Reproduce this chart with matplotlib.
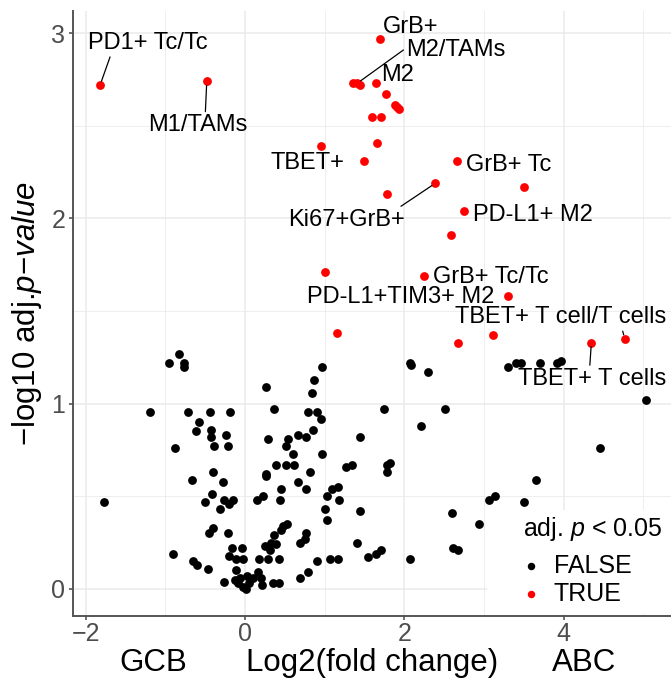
import numpy as np
from matplotlib import pyplot as plt
from matplotlib.patches import Rectangle

plt.rcParams['font.family'] = ['Liberation Sans', 'DejaVu Sans']
plt.rcParams['mathtext.fontset'] = 'custom'
plt.rcParams['mathtext.rm'] = 'Liberation Sans'
plt.rcParams['mathtext.it'] = 'Liberation Sans:italic'

# poblaciones con adj. p < 0.05 (TRUE)
sig_x = np.array([-1.82, -0.48, 1.69, 1.36, 1.41, 1.44, 1.64, 1.77, 1.89, 1.93,
                  1.91, 1.60, 1.71, 0.95, 1.66, 1.50, 2.66, 2.39, 1.78, 3.50,
                  2.75, 2.59, 1.01, 2.25, 3.30, 1.16, 2.68, 3.11, 4.35, 4.77])
sig_y = np.array([2.72, 2.74, 2.97, 2.73, 2.73, 2.72, 2.73, 2.67, 2.61, 2.59,
                  2.60, 2.55, 2.55, 2.39, 2.41, 2.31, 2.31, 2.19, 2.13, 2.17,
                  2.04, 1.91, 1.71, 1.69, 1.58, 1.38, 1.33, 1.37, 1.33, 1.35])
sig_lab = ['PD1+ Tc/Tc', 'M1/TAMs', 'GrB+', '', 'M2/TAMs', '', 'M2', '', '', '',
           '', '', '', '', '', 'TBET+', 'GrB+ Tc', 'Ki67+GrB+', '', '',
           'PD-L1+ M2', '', '', 'GrB+ Tc/Tc', 'PD-L1+TIM3+ M2', '', '', '',
           'TBET+ T cells', 'TBET+ T cell/T cells']

# poblaciones no significativas (FALSE)
ns_x = np.array([-0.83, -0.95, -0.76, -0.76, -1.19, -0.71, -0.44, -0.19, -0.58, -0.61,
                 -0.43, -0.43, -0.24, -0.88, -0.39, -0.21, -0.66, -0.40, -0.28, -0.42,
                 -0.50, -0.26, -0.15, -0.20, -0.31, -1.77, -0.40, -0.45, -0.21, -0.90,
                 -0.65, -0.60, -0.47, -0.16, -0.04, -0.20, -0.11, -0.03, -0.11, -0.26,
                 -0.13, -0.09, -0.03, 0.01, 0.05, 0.10, 0.16, 0.20, 0.21, 0.03,
                 -0.06, 0.27, 0.36, 0.29, 0.79, 0.90, 0.97, 0.87, 0.84, 0.96,
                 0.86, 0.77, 0.66, 0.54, 0.52, 0.60, 0.97, 0.39, 0.52, 0.61,
                 0.82, 1.27, 1.34, 0.26, 0.26, 0.66, 0.45, 0.77, 1.09, 1.17,
                 1.18, 1.03, 1.01, 1.03, 0.44, 0.15, 0.22, 0.48, 0.53, 0.45,
                 0.37, 0.33, 0.25, 0.39, 0.31, 0.17, 0.29, 0.43, 0.77, 0.75,
                 0.69, 0.90, 0.79, 0.69, 0.35, 0.43, 1.07, 1.17, 1.41, 1.45,
                 1.45, 2.07, 2.08, 2.30, 3.30, 3.40, 3.47, 3.70, 3.92, 3.97,
                 5.04, 1.75, 2.51, 2.21, 4.46, 1.78, 1.82, 1.78, 3.65, 3.06,
                 3.14, 3.51, 2.60, 2.94, 1.55, 1.64, 1.71, 2.07, 2.61, 2.67])
ns_y = np.array([1.27, 1.22, 1.22, 1.20, 0.955, 0.955, 0.955, 0.955, 0.90, 0.85,
                 0.86, 0.82, 0.83, 0.76, 0.77, 0.77, 0.59, 0.63, 0.58, 0.51,
                 0.47, 0.48, 0.48, 0.46, 0.43, 0.47, 0.33, 0.30, 0.30, 0.19,
                 0.15, 0.13, 0.11, 0.22, 0.22, 0.18, 0.16, 0.16, 0.10, 0.04,
                 0.05, 0.03, 0.01, 0.00, 0.03, 0.06, 0.09, 0.06, 0.02, 0.07,
                 0.06, 1.09, 0.97, 0.81, 0.955, 0.955, 1.20, 1.13, 1.06, 0.915,
                 0.86, 0.82, 0.83, 0.81, 0.77, 0.73, 0.73, 0.67, 0.67, 0.67,
                 0.63, 0.66, 0.67, 0.62, 0.61, 0.58, 0.54, 0.54, 0.54, 0.55,
                 0.48, 0.50, 0.43, 0.37, 0.48, 0.48, 0.50, 0.34, 0.35, 0.32,
                 0.29, 0.25, 0.23, 0.24, 0.21, 0.16, 0.16, 0.16, 0.30, 0.27,
                 0.25, 0.15, 0.09, 0.06, 0.03, 0.03, 0.16, 0.16, 0.25, 0.42,
                 0.82, 1.22, 1.21, 1.17, 1.20, 1.22, 1.22, 1.22, 1.22, 1.23,
                 1.02, 0.97, 0.97, 0.88, 0.76, 0.67, 0.68, 0.63, 0.59, 0.48,
                 0.50, 0.47, 0.41, 0.35, 0.17, 0.19, 0.21, 0.16, 0.22, 0.21])

# desplazamiento de cada etiqueta (puntos) y donde sale la linea (relpos)
lab_pos = {
    'PD1+ Tc/Tc': (34.6, 30.2, (0.19, 0)),
    'M1/TAMs': (-6.1, -31.7, (0.57, 1)),
    'GrB+': (22.3, 8.4, None),
    'M2/TAMs': (71.0, 23.8, (0, 0.6)),
    'M2': (15.5, 5.8, None),
    'TBET+': (-41.3, -1.4, None),
    'GrB+ Tc': (37.0, -2.9, None),
    'Ki67+GrB+': (-63.7, -26.5, (0.9, 0.9)),
    'PD-L1+ M2': (49.4, -2.9, None),
    'GrB+ Tc/Tc': (47.8, -0.6, None),
    'PD-L1+TIM3+ M2': (-77.2, -0.4, None),
    'TBET+ T cell/T cells': (-46.2, 15.5, (0.79, 0)),
    'TBET+ T cells': (0.9, -26.2, (0.48, 1)),
}

fig = plt.figure(figsize=(6.71, 6.81), dpi=100)
ax = fig.add_axes([73/671, 65/681, 598/671, 605/681])

ax.set_xlim(-2.16, 5.35)
ax.set_ylim(-0.146, 3.12)
ax.set_xticks([-2, 0, 2, 4])
ax.set_yticks([0, 1, 2, 3])
ax.set_xticks([-1, 1, 3, 5], minor=True)
ax.set_yticks([0.5, 1.5, 2.5], minor=True)
ax.set_axisbelow(True)
ax.grid(which='major', color='#EBEBEB', lw=1.1)
ax.grid(which='minor', color='#EBEBEB', lw=0.6)

for s in ['top', 'right']:
    ax.spines[s].set_visible(False)
for s in ['left', 'bottom']:
    ax.spines[s].set_color('#555555')
    ax.spines[s].set_linewidth(1.4)
ax.tick_params(which='major', length=3, width=1.2, color='#555555',
               labelsize=18, labelcolor='#4D4D4D')
ax.tick_params(axis='x', pad=1)
ax.tick_params(axis='y', pad=2.5)
ax.tick_params(which='minor', length=0)

# fondo blanco de la leyenda
ax.add_patch(Rectangle((0.692, 0.003), 0.31, 0.172, transform=ax.transAxes,
                       facecolor='white', edgecolor='none', zorder=1))

ax.scatter(ns_x, ns_y, s=40, color='black', lw=0, zorder=2, label='FALSE')
ax.scatter(sig_x, sig_y, s=40, color='red', lw=0, zorder=2, label='TRUE')

for x, y, lab in zip(sig_x, sig_y, sig_lab):
    if lab == '':
        continue
    dx, dy, rp = lab_pos[lab]
    arrow = None
    if rp is not None:
        arrow = dict(arrowstyle='-', color='black', lw=0.9, relpos=rp,
                     shrinkA=0, shrinkB=3)
    ax.annotate(lab, (x, y), xytext=(dx, dy), textcoords='offset points',
                ha='center', va='center', fontsize=17, arrowprops=arrow,
                zorder=3)

ax.set_ylabel('\u2212log10 adj.$\\mathit{p}$\u2212$\\mathit{value}$',
              fontsize=22.5, va='center')
ax.yaxis.set_label_coords(-46/598, 0.5)
ax.set_xlabel('Log2(fold change)', fontsize=22.5, va='center')
ax.xaxis.set_label_coords(0.5, -47/605)
ax.text(0.134, -47/605, 'GCB', transform=ax.transAxes, fontsize=22.5,
        ha='center', va='center')
ax.text(0.855, -47/605, 'ABC', transform=ax.transAxes, fontsize=22.5,
        ha='center', va='center')

# leyenda
ax.text(0.7525, 0.1438, 'adj. $\\mathit{p}$ < 0.05', transform=ax.transAxes,
        fontsize=18, ha='left', va='center')
leg = ax.legend(loc='upper left', bbox_to_anchor=(0.7525, 0.103),
                frameon=False, fontsize=18, borderpad=0, borderaxespad=0,
                handlelength=0.64, handletextpad=0.6, labelspacing=0.16,
                markerscale=0.85)

fig.savefig('out.png', dpi=100)
